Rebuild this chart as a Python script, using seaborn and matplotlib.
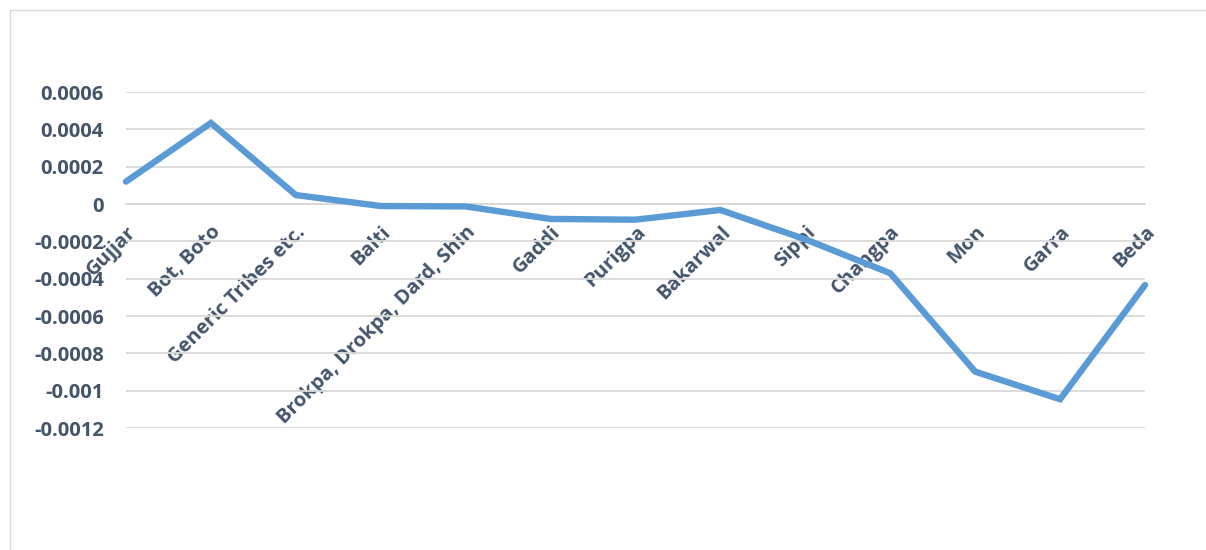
import numpy as np
import matplotlib
matplotlib.use("Agg")
import matplotlib.pyplot as plt
from matplotlib.patches import Rectangle
from matplotlib.ticker import FuncFormatter, FixedLocator
import seaborn as sns

categories = ["Gujjar", "Bot, Boto", "Generic Tribes etc.", "Balti",
              "Brokpa, Drokpa, Dard, Shin", "Gaddi", "Purigpa", "Bakarwal",
              "Sippi", "Changpa", "Mon", "Garra", "Beda"]
values = [0.000120, 0.000434, 0.000048, -0.000011, -0.000013, -0.000080,
          -0.000084, -0.000032, -0.000189, -0.000371, -0.000898, -0.001046,
          -0.000434]
y_ticks = [0.0006, 0.0004, 0.0002, 0.0, -0.0002, -0.0004, -0.0006,
           -0.0008, -0.001, -0.0012]

sns.set_theme(style="white")
plt.rcParams['font.family'] = ['Open Sans', 'DejaVu Sans']

W, H = 1206, 550
fig = plt.figure(figsize=(W / 100, H / 100), dpi=100)
ax = fig.add_axes([126 / W, (H - 428) / H, (1145 - 126) / W, (428 - 92) / H])

x = np.arange(len(categories))
sns.lineplot(x=x, y=values, ax=ax, color="#5b9bd5", linewidth=4.6,
             solid_joinstyle="miter", clip_on=False, zorder=3)

ax.set_xlim(0, len(categories) - 1)
ax.set_ylim(-0.0012, 0.0006)
ax.yaxis.set_major_locator(FixedLocator(y_ticks))

def fmt(v, pos):
    if abs(v) < 1e-12:
        return "0"
    return f"{v:g}"
ax.yaxis.set_major_formatter(FuncFormatter(fmt))

ax.grid(axis="y", color="#d9d9d9", linewidth=1.3)
ax.set_axisbelow(True)
for s in ["top", "right", "left"]:
    ax.spines[s].set_visible(False)
ax.spines["bottom"].set_position(("data", 0))
ax.spines["bottom"].set_color("#d9d9d9")
ax.spines["bottom"].set_linewidth(1.3)

ax.set_xticks(x)
ax.set_xticklabels(categories)
ax.tick_params(axis="x", direction="out", length=6, width=1.3, color="#d9d9d9",
               pad=7, labelsize=14.5, labelcolor="#44546a")
ax.tick_params(axis="y", length=0, pad=16, labelsize=14.5, labelcolor="#44546a")
for lab in ax.get_xticklabels():
    lab.set_rotation(45)
    lab.set_ha("right")
    lab.set_va("top")
    lab.set_rotation_mode("anchor")
    lab.set_fontweight("bold")
for lab in ax.get_yticklabels():
    lab.set_fontweight("bold")

ax.set_xlabel("")
ax.set_ylabel("")

fig.patches.append(Rectangle((10 / W, -0.1), 1.2, 1 - 10 / H + 0.1,
                             transform=fig.transFigure, fill=False,
                             edgecolor="#d9d9d9", linewidth=1.0))

fig.savefig("out.png", dpi=100)
